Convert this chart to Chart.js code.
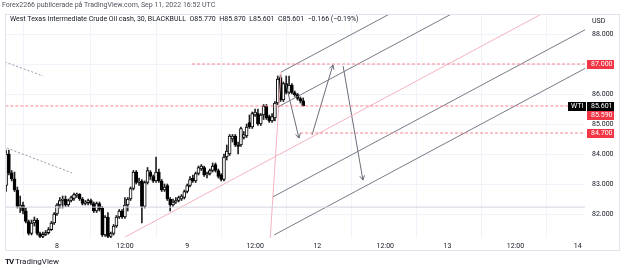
<!DOCTYPE html>
<html><head><meta charset="utf-8">
<script src="https://cdn.jsdelivr.net/npm/chart.js@4/dist/chart.umd.min.js"></script>
<style>
html,body{margin:0;padding:0;background:#fff;}
#wrap{position:relative;width:625px;height:270px;overflow:hidden;font-family:Roboto,"Liberation Sans",sans-serif;}
#c{position:absolute;left:0;top:0;}
.t{position:absolute;white-space:nowrap;color:#131722;line-height:1;}
</style></head><body>
<div id="wrap">
<canvas id="c" width="625" height="270" style="width:625px;height:270px"></canvas>
<div class="t" style="left:2px;top:2px;font-size:7px;color:#50535e">Forex2266 publicerade på TradingView.com, Sep 11, 2022 16:52 UTC</div>
<div class="t" style="left:10px;top:16px;font-size:7px">West Texas Intermediate Crude Oil cash, 30, BLACKBULL&nbsp; O85.770&nbsp; H85.870&nbsp; L85.601&nbsp; C85.601&nbsp; −0.166 (−0.19%)</div>
<div class="t" style="left:592px;top:18px;font-size:7px">USD</div>
<div class="t" style="left:5px;top:258px;font-size:8px"><b style="font-size:8px;letter-spacing:-1px">TV</b> TradingView</div>
</div>
<script>
// ---- data ----
const candleStart = -18; // bar index of first candle (bar index 0 = Sep 8 00:00)
const opens  = [82.95,84.00,83.37,83.17,82.80,82.22,82.30,82.10,81.75,81.35,81.70,81.80,81.35,81.25,81.32,81.38,81.48,81.70,
  82.00,82.30,82.45,82.50,82.30,82.45,82.52,82.62,82.66,82.50,82.35,82.38,82.45,82.35,82.10,82.35,82.20,81.30,81.90,81.25,81.35,81.60,81.90,82.10,
  81.90,82.30,82.50,82.85,83.40,83.05,83.10,82.25,83.05,83.40,83.25,83.10,83.40,83.10,82.80,82.95,82.50,82.30,82.40,82.45,82.50,82.55,
  82.75,82.95,83.20,83.10,83.35,83.50,83.55,83.30,83.35,83.45,83.65,83.45,83.30,83.15,83.90,84.00,84.50,84.60,84.30,84.30,84.55,84.60,
  85.05,84.90,85.30,85.35,85.00,85.30,85.60,85.25,85.10,85.20,85.70,86.55,85.80,86.35,86.05,86.30,86.05,85.98,85.85,85.77];
const highs  = [84.13,84.13,83.45,83.40,82.90,82.60,82.40,82.20,81.80,81.80,81.90,81.85,81.40,81.40,81.45,81.55,81.75,82.05,
  82.35,82.55,82.60,82.60,82.50,82.60,82.70,82.70,82.68,82.55,82.45,82.50,82.50,82.40,82.40,82.40,82.25,81.95,82.05,81.40,81.65,81.95,82.15,82.15,
  82.55,82.55,82.90,83.45,83.45,83.20,83.15,83.10,83.55,83.45,83.30,83.90,83.50,83.15,83.00,83.00,82.55,82.50,82.55,82.60,82.65,82.80,
  83.00,83.25,83.30,83.40,83.60,83.65,83.60,83.40,83.50,83.70,83.70,83.50,83.35,84.00,84.30,84.65,84.65,84.65,84.40,84.90,84.75,85.00,
  85.30,85.40,85.50,85.50,85.35,85.65,85.65,85.30,85.35,85.75,86.60,86.63,86.40,86.60,86.60,86.35,86.10,86.02,85.90,85.87];
const lows   = [82.75,83.30,83.10,82.75,82.20,82.05,82.00,81.70,81.30,81.30,81.60,81.30,81.15,81.10,81.28,81.33,81.45,81.65,
  81.95,82.20,82.20,82.25,82.25,82.40,82.45,82.55,82.45,82.30,82.30,82.30,82.30,82.05,82.05,82.10,81.25,81.25,81.20,81.20,81.30,81.55,81.85,81.85,
  81.85,82.10,82.45,82.80,83.00,82.95,81.70,82.20,83.00,83.15,83.05,83.05,83.05,82.75,82.75,82.45,82.10,82.25,82.35,82.40,82.45,82.50,
  82.70,82.90,83.05,83.05,83.30,83.45,83.25,83.20,83.30,83.40,83.40,83.20,83.10,83.10,83.80,83.95,84.40,84.25,84.00,84.25,84.50,84.55,
  84.85,84.85,85.25,84.95,84.95,85.15,85.15,85.05,85.05,85.10,85.65,85.75,85.75,86.00,86.00,86.00,85.92,85.80,85.70,85.601];
const closes = [84.00,83.37,83.17,82.80,82.25,82.30,82.10,81.75,81.35,81.70,81.80,81.35,81.25,81.32,81.38,81.48,81.70,82.00,
  82.30,82.45,82.50,82.30,82.45,82.55,82.65,82.66,82.50,82.35,82.40,82.45,82.35,82.10,82.35,82.15,81.30,81.90,81.25,81.35,81.60,81.90,82.10,81.90,
  82.30,82.50,82.85,83.40,83.05,83.10,82.25,83.05,83.45,83.25,83.10,83.40,83.10,82.80,82.90,82.50,82.30,82.40,82.45,82.55,82.60,82.75,
  82.95,83.15,83.10,83.35,83.55,83.60,83.30,83.35,83.45,83.60,83.45,83.25,83.15,83.90,84.10,84.60,84.60,84.30,84.25,84.85,84.65,84.90,
  84.90,85.35,85.40,85.00,85.30,85.60,85.20,85.10,85.25,85.70,86.50,85.80,86.35,86.05,86.30,86.05,85.98,85.85,85.77,85.601];

const xTickPositions = [0,24,46,70,92,116,138,162,184];
const xTickLabels = ['8','12:00','9','12:00','12','12:00','13','12:00','14'];
const yTickValues = [82,83,84,85,86,87,88];

// drawn lines: [barIndex, price] pairs
const dotLine1 = [[-18.4,87.07],[-4.9,86.6]];
const dotLine2 = [[-17.7,84.2],[5.3,83.37]];
const chanTop   = [[79.15,86.73],[200,92.83]];
const chanSecond= [[78.1,85.57],[200,91.73]];
const chanPink  = [[24.0,81.23],[200,90.12]];
const chanLow1  = [[76.3,82.57],[200,88.82]];
const chanLow2  = [[76.7,81.30],[200,87.53]];
const pinkHandle= [[75.3,81.13],[79.15,86.73]];
const hLineGray = [[-20,82.23],[200,82.23]];
const hLine87   = [[47.7,87.0],[200,87.0]];
const hLine847  = [[85.9,84.7],[200,84.7]];
const hLineLast = [[-20,85.601],[200,85.601]];
const arrow1 = [[80.9,86.33],[85.5,84.53]];
const arrow2 = [[90.1,84.63],[97.5,86.97]];
const arrow3 = [[101.1,86.93],[108.1,83.13]];

const lastPrice = 85.601, prevLevel = 85.590, upperLevel = 87.0, lowerLevel = 84.7;

// ---- build ----
const wickData = opens.map((o,i)=>({x:candleStart+i, y:[lows[i],highs[i]]}));
const bodyData = opens.map((o,i)=>{
  let a=o, b=closes[i];
  if (Math.abs(a-b)<0.03) b = b + (b>=a?0.03:-0.03);
  return {x:candleStart+i, y:[a,b]};
});
const bodyColors = opens.map((o,i)=> closes[i]>=o ? '#ffffff' : '#000000');
const pts = arr => arr.map(p=>({x:p[0],y:p[1]}));
function lineDs(arr,color,dash,width){
  return {type:'line', data:pts(arr), borderColor:color, borderWidth:width||1, borderDash:dash||[],
          pointRadius:0, fill:false, tension:0, order:0};
}
const arrows=[arrow1,arrow2,arrow3];

const decor = {
  id:'decor',
  afterDatasetsDraw(chart){
    const ctx=chart.ctx, xs=chart.scales.x, ys=chart.scales.y;
    ctx.save();
    ctx.beginPath(); ctx.rect(chart.chartArea.left,chart.chartArea.top,chart.chartArea.right-chart.chartArea.left,chart.chartArea.bottom-chart.chartArea.top); ctx.clip();
    ctx.strokeStyle='#6a6d78'; ctx.lineWidth=1;
    arrows.forEach(a=>{
      const x0=xs.getPixelForValue(a[0][0]), y0=ys.getPixelForValue(a[0][1]);
      const x1=xs.getPixelForValue(a[1][0]), y1=ys.getPixelForValue(a[1][1]);
      const ang=Math.atan2(y1-y0,x1-x0), L=5;
      ctx.beginPath();
      ctx.moveTo(x1-L*Math.cos(ang-0.5), y1-L*Math.sin(ang-0.5));
      ctx.lineTo(x1,y1);
      ctx.lineTo(x1-L*Math.cos(ang+0.5), y1-L*Math.sin(ang+0.5));
      ctx.stroke();
    });
    ctx.restore();
  },
  afterDraw(chart){
    const ctx=chart.ctx, ys=chart.scales.y, ca=chart.chartArea;
    ctx.save();
    ctx.font='7px Roboto, "Liberation Sans", sans-serif';
    ctx.textBaseline='middle';
    function box(y,txt,bg,x,w,pad){
      ctx.fillStyle=bg; ctx.fillRect(x,Math.round(y)-4,w,9);
      ctx.fillStyle='#fff'; ctx.textAlign='left'; ctx.fillText(txt,x+pad,Math.round(y)+0.5);
    }
    const yl=ys.getPixelForValue(lastPrice);
    box(ys.getPixelForValue(upperLevel),upperLevel.toFixed(3),'#f23645',587,27,4);
    box(yl,'WTI','#000',568,18,3);
    box(yl,lastPrice.toFixed(3),'#000',587,27,4);
    box(yl+9,prevLevel.toFixed(3),'#f23645',587,27,4);
    box(ys.getPixelForValue(lowerLevel),lowerLevel.toFixed(3),'#f23645',587,27,4);
    ctx.strokeStyle='#e0e3eb'; ctx.lineWidth=1;
    ctx.strokeRect(5.5,14.5,614,236);
    ctx.restore();
  }
};

new Chart(document.getElementById('c'),{
  type:'bar',
  data:{datasets:[
    lineDs(dotLine1,'#9598a1',[2,2]),
    lineDs(dotLine2,'#9598a1',[2,2]),
    lineDs(hLineGray,'#d1d4dc',[],1),
    lineDs(hLineLast,'#f7838e',[3,2]),
    lineDs(hLine87,'#f7838e',[3,2]),
    lineDs(hLine847,'#f7838e',[3,2]),
    lineDs(chanTop,'#787b86'),
    lineDs(chanSecond,'#787b86'),
    lineDs(chanLow1,'#787b86'),
    lineDs(chanLow2,'#787b86'),
    lineDs(chanPink,'#f6b3c0'),
    lineDs(pinkHandle,'#f6b3c0'),
    lineDs(arrow1,'#6a6d78'),
    lineDs(arrow2,'#6a6d78'),
    lineDs(arrow3,'#6a6d78'),
    {type:'bar', data:bodyData, barThickness:3, grouped:false, backgroundColor:bodyColors,
     borderColor:'#000', borderWidth:1, borderSkipped:false, order:1},
    {type:'bar', data:wickData, barThickness:1, grouped:false, backgroundColor:'#222',
     borderWidth:0, order:2}
  ]},
  options:{
    responsive:false, animation:false, devicePixelRatio:1,
    layout:{padding:{left:5,right:6,top:14,bottom:20}},
    plugins:{legend:{display:false},tooltip:{enabled:false}},
    scales:{
      x:{type:'linear', min:-18.37, max:186.57, offset:false,
        afterBuildTicks(s){ s.ticks = xTickPositions.map(v=>({value:v})); },
        afterFit(s){ s.height=12; },
        grid:{color:'#f0f3fa', drawTicks:false}, border:{display:false},
        ticks:{padding:4, maxRotation:0, autoSkip:false, font:{size:7,family:'Roboto'}, color:'#131722',
          callback(v){ const i=xTickPositions.indexOf(v); return i>=0?xTickLabels[i]:''; }}
      },
      y:{type:'linear', position:'right', min:81.2, max:88.667,
        afterBuildTicks(s){ s.ticks = yTickValues.map(v=>({value:v})); },
        afterFit(s){ s.width=34; },
        grid:{color:'#f0f3fa', drawTicks:false}, border:{display:false},
        ticks:{padding:7, font:{size:7,family:'Roboto'}, color:'#131722', callback:v=>Number(v).toFixed(3)}
      }
    }
  },
  plugins:[decor]
});
</script>
</body></html>
